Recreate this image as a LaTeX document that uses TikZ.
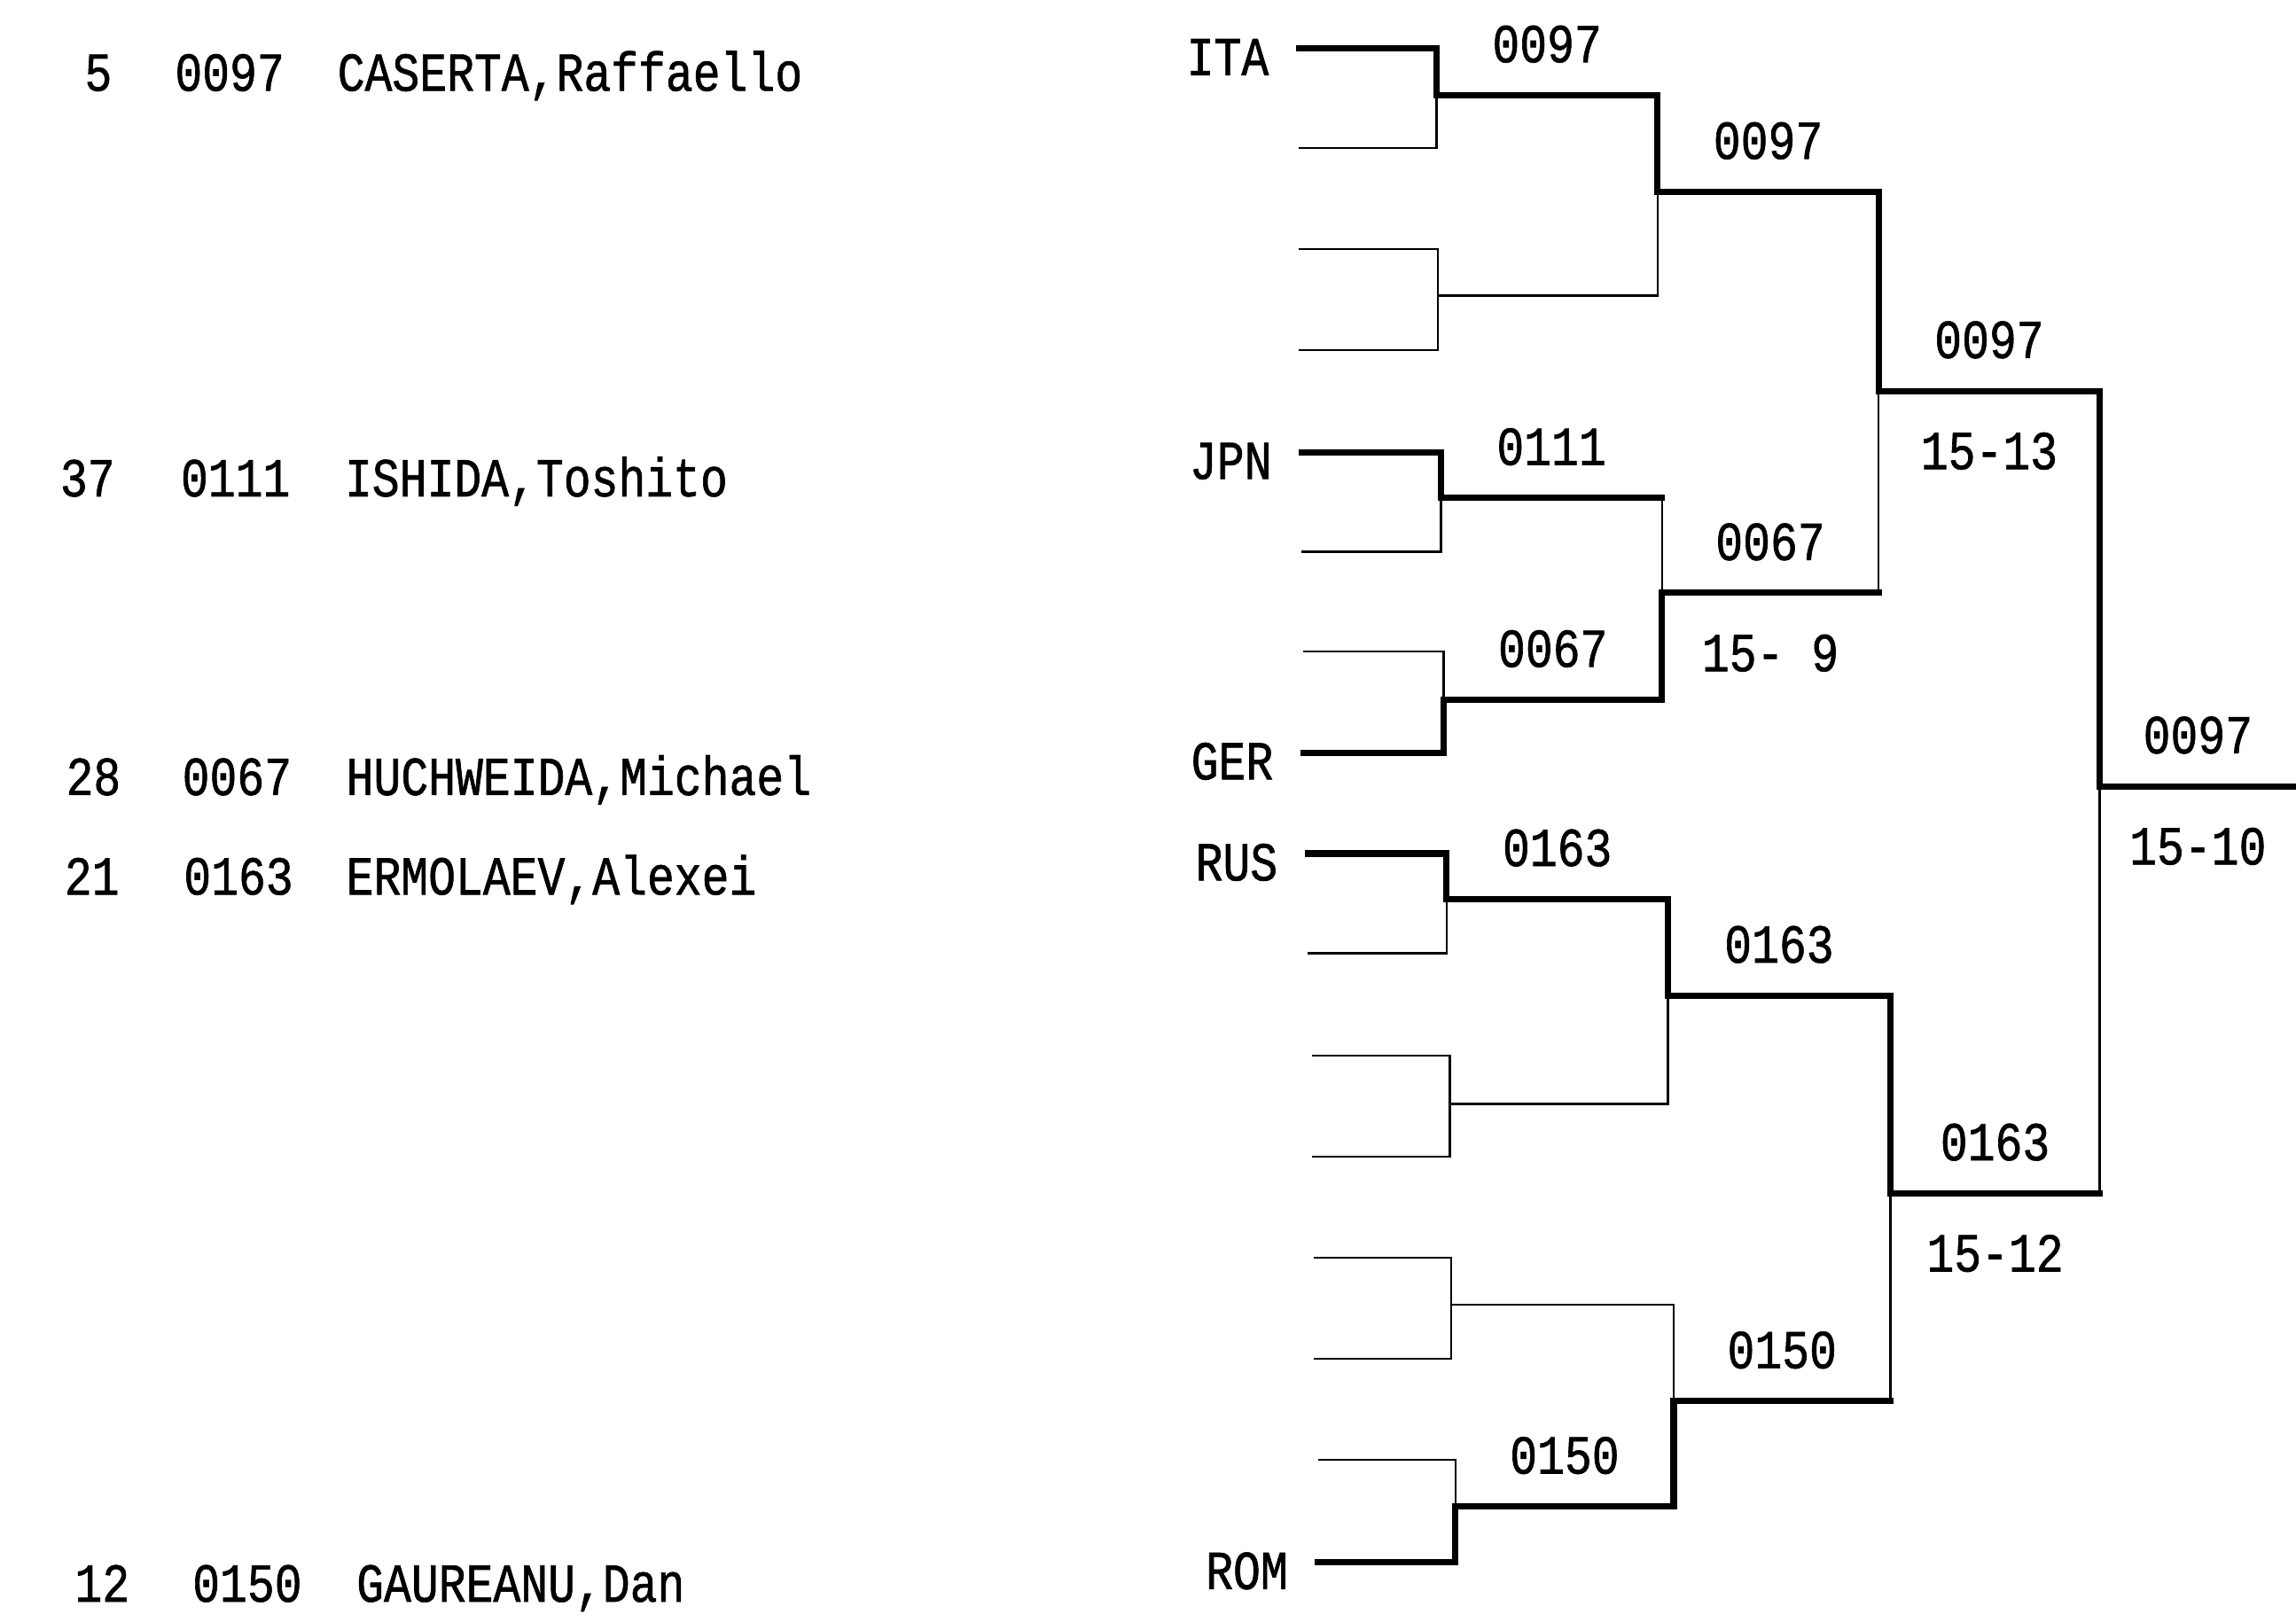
\documentclass[tikz,border=0pt]{standalone}
\usepackage{fontspec}
\setmonofont{Liberation Mono}[FakeStretch=0.83,FakeBold=1]
\usepackage{tikz}

\begin{document}
\begin{tikzpicture}[x=0.4pt,y=-0.4pt,
  lose/.style={black,line width=0.6pt},
  win/.style={black,line width=1.7pt,line cap=rect},
  team/.style={anchor=east,xshift=-8pt,yshift=-2.4pt},
  code/.style={above=8pt},
  score/.style={below=10.5pt}]
\tikzstyle{every node}+=[inner sep=0pt,font=\ttfamily\fontsize{15}{17}\selectfont]
\useasboundingbox (0,0) rectangle (1568,1107.3);
% list of fencers
\node[anchor=base east] (s1) at (77,62) {5};
\node[anchor=base west] (c1) at (119,62) {0097};
\node[anchor=base west] (n1) at (230,62) {CASERTA,Raffaello};
\node[anchor=base east] (s2) at (79,339) {37};
\node[anchor=base west] (c2) at (123,339) {0111};
\node[anchor=base west] (n2) at (235,339) {ISHIDA,Toshito};
\node[anchor=base east] (s3) at (83,543) {28};
\node[anchor=base west] (c3) at (124,543) {0067};
\node[anchor=base west] (n3) at (236,543) {HUCHWEIDA,Michael};
\node[anchor=base east] (s4) at (82,611) {21};
\node[anchor=base west] (c4) at (125,611) {0163};
\node[anchor=base west] (n4) at (236,611) {ERMOLAEV,Alexei};
\node[anchor=base east] (s5) at (89,1094) {12};
\node[anchor=base west] (c5) at (131,1094) {0150};
\node[anchor=base west] (n5) at (243,1094) {GAUREANU,Dan};
% entries
\coordinate (e1) at (887,33);
\coordinate (e2) at (887,101);
\coordinate (e3) at (887,170);
\coordinate (e4) at (887,239);
\coordinate (e5) at (889,309);
\coordinate (e6) at (889,377);
\coordinate (e7) at (890,445);
\coordinate (e8) at (890,514);
\coordinate (e9) at (893,583);
\coordinate (e10) at (893,651);
\coordinate (e11) at (896,721);
\coordinate (e12) at (896,790);
\coordinate (e13) at (897,859);
\coordinate (e14) at (897,928);
\coordinate (e15) at (900,997);
\coordinate (e16) at (900,1067);
% junctions
\coordinate (j11) at (981,65);
\coordinate (j12) at (982,202);
\coordinate (j13) at (984,340);
\coordinate (j14) at (986,478);
\coordinate (j15) at (988,614);
\coordinate (j16) at (990,754);
\coordinate (j17) at (991,891);
\coordinate (j18) at (994,1029);
\coordinate (j21) at (1132,131);
\coordinate (j22) at (1135,405);
\coordinate (j23) at (1139,680);
\coordinate (j24) at (1143,957);
\coordinate (j31) at (1283,267);
\coordinate (j32) at (1291,815);
\coordinate (j41) at (1434,537);
\coordinate (fin) at (1568,537);
\node[team] (ITA) at (e1) {ITA};
\node[team] (JPN) at (e5) {JPN};
\node[team] (GER) at (e8) {GER};
\node[team] (RUS) at (e9) {RUS};
\node[team] (ROM) at (e16) {ROM};
% first round
\draw[win] (e1) -| (j11);
\draw[lose] (e2) -| (j11);
\draw[lose] (e3) -| (j12);
\draw[lose] (e4) -| (j12);
\draw[win] (e5) -| (j13);
\draw[lose] (e6) -| (j13);
\draw[lose] (e7) -| (j14);
\draw[win] (e8) -| (j14);
\draw[win] (e9) -| (j15);
\draw[lose] (e10) -| (j15);
\draw[lose] (e11) -| (j16);
\draw[lose] (e12) -| (j16);
\draw[lose] (e13) -| (j17);
\draw[lose] (e14) -| (j17);
\draw[lose] (e15) -| (j18);
\draw[win] (e16) -| (j18);
% second round
\draw[win] (j11) -| (j21) node[code,pos=0.25] (w11) {0097};
\draw[lose] (j12) -| (j21);
\draw[win] (j13) -- (j13 -| j22) node[code,midway] (w13) {0111};
\draw[lose] (j13 -| j22) -- (j22);
\draw[win] (j14) -| (j22) node[code,pos=0.25] (w14) {0067};
\draw[win] (j15) -| (j23) node[code,pos=0.25] (w15) {0163};
\draw[lose] (j16) -| (j23);
\draw[lose] (j17) -| (j24);
\draw[win] (j18) -| (j24) node[code,pos=0.25] (w18) {0150};
% third round
\draw[win] (j21) -| (j31) node[code,pos=0.25] (w21) {0097};
\draw[win] (j22) -- (j22 -| j31) node[code,midway] (w22) {0067}
  node[score,midway] (r22) {15-~9};
\draw[lose] (j22 -| j31) -- (j31);
\draw[win] (j23) -| (j32) node[code,pos=0.25] (w23) {0163};
\draw[win] (j24) -- (j24 -| j32) node[code,midway] (w24) {0150};
\draw[lose] (j24 -| j32) -- (j32);
% semi final
\draw[win] (j31) -| (j41) node[code,pos=0.25] (w31) {0097}
  node[score,pos=0.25] (r31) {15-13};
\draw[win] (j32) -- (j32 -| j41) node[code,midway] (w32) {0163}
  node[score,midway] (r32) {15-12};
\draw[lose] (j32 -| j41) -- (j41);
% final
\draw[win] (j41) -- (fin) node[code,midway] (w41) {0097}
  node[score,midway] (r41) {15-10};
\end{tikzpicture}
\end{document}
